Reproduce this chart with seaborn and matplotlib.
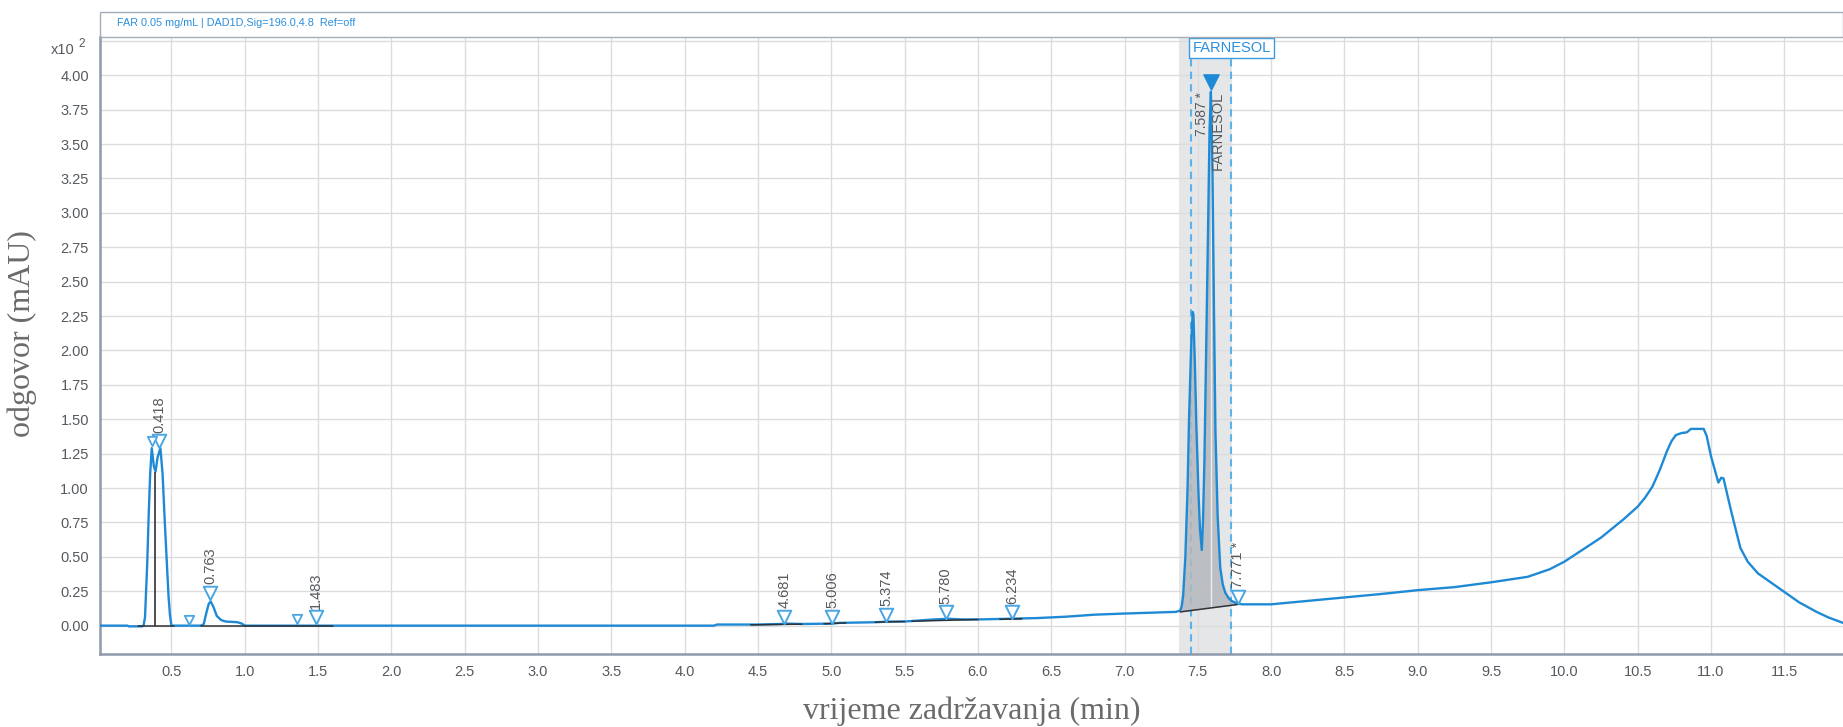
import numpy as np
import matplotlib
matplotlib.use("Agg")
import matplotlib.pyplot as plt
import matplotlib.transforms as mtransforms
from matplotlib.patches import Rectangle
from matplotlib.ticker import MultipleLocator, FormatStrFormatter, FuncFormatter
import seaborn as sns

# DAD trace: retention time (min) and response (mAU, x10^2)
time_min = [
    0.00, 0.20, 0.21, 0.30, 0.31,
    0.32, 0.335, 0.345, 0.355, 0.366, 0.38, 0.392, 0.405, 0.425, 0.44, 0.455, 0.468, 0.48, 0.49, 0.50,
    0.60, 0.70, 0.72, 0.74, 0.755, 0.768, 0.785, 0.81, 0.84, 0.87, 0.95, 0.98, 1.00,
    1.50, 2.00, 3.00, 4.00, 4.20, 4.22,
    4.50, 4.65, 4.70, 4.80, 5.00, 5.05, 5.30, 5.40, 5.50, 5.70, 5.80, 5.90, 6.00, 6.20, 6.40, 6.60,
    6.80, 7.00, 7.20, 7.35, 7.38,
    7.39, 7.40, 7.415, 7.43, 7.44, 7.455, 7.465, 7.47, 7.48, 7.49, 7.505, 7.515, 7.527, 7.535, 7.545,
    7.56, 7.57, 7.58, 7.589, 7.60, 7.61, 7.62, 7.635, 7.653, 7.67, 7.687, 7.71, 7.73, 7.76, 7.80,
    8.00, 8.25, 8.50, 8.75, 9.00, 9.25, 9.50, 9.75, 9.90, 10.00, 10.25, 10.40, 10.50, 10.55, 10.60,
    10.65, 10.70, 10.73, 10.76, 10.80, 10.835, 10.863, 10.95, 10.97, 11.00, 11.05, 11.07, 11.085,
    11.14, 11.20, 11.25, 11.32, 11.40, 11.50, 11.60, 11.72, 11.80, 11.90,
]
response = [
    0.000, 0.000, -0.005, -0.005, 0.000,
    0.060, 0.450, 0.800, 1.100, 1.290, 1.160, 1.120, 1.220, 1.290, 1.100, 0.750, 0.480, 0.220, 0.080, 0.000,
    0.000, 0.000, 0.010, 0.100, 0.160, 0.175, 0.140, 0.070, 0.040, 0.030, 0.025, 0.015, 0.000,
    0.000, 0.000, 0.000, 0.000, 0.000, 0.008,
    0.008, 0.012, 0.015, 0.012, 0.015, 0.020, 0.025, 0.030, 0.030, 0.045, 0.050, 0.045, 0.045, 0.050, 0.055, 0.065,
    0.080, 0.088, 0.095, 0.100, 0.110,
    0.140, 0.220, 0.500, 1.000, 1.500, 2.050, 2.280, 2.260, 1.900, 1.450, 0.950, 0.700, 0.550, 0.750, 1.200,
    2.200, 2.900, 3.600, 3.880, 3.300, 2.300, 1.420, 0.800, 0.420, 0.300, 0.240, 0.200, 0.180, 0.165, 0.155,
    0.155, 0.180, 0.205, 0.230, 0.258, 0.280, 0.315, 0.355, 0.410, 0.465, 0.640, 0.770, 0.865, 0.930, 1.010,
    1.130, 1.270, 1.340, 1.385, 1.400, 1.405, 1.430, 1.430, 1.380, 1.230, 1.040, 1.075, 1.070,
    0.820, 0.565, 0.465, 0.380, 0.320, 0.245, 0.170, 0.100, 0.060, 0.020,
]

# Integration baselines (start/end time, start/end response)
base_t0 = [0.27, 0.70, 1.00, 4.45, 4.95, 5.30, 5.55, 6.15, 7.38]
base_t1 = [0.52, 1.00, 1.60, 4.80, 5.10, 5.50, 6.00, 6.30, 7.78]
base_y0 = [0.000, 0.000, 0.000, 0.006, 0.013, 0.025, 0.032, 0.046, 0.100]
base_y1 = [0.000, 0.000, 0.000, 0.011, 0.020, 0.030, 0.045, 0.050, 0.155]

# Valley drop between the two early peaks
valley_rt, valley_y = 0.39, 1.12

# Labelled peaks (open markers)
peak_rt = [0.418, 0.763, 1.483, 4.681, 5.006, 5.374, 5.780, 6.234, 7.771]
peak_mark_y = [1.34, 0.24, 0.06, 0.065, 0.065, 0.08, 0.10, 0.10, 0.21]
peak_labels = ["0.418", "0.763", "1.483", "4.681", "5.006", "5.374", "5.780", "6.234", "7.771 *"]

# Unlabelled peak starts
minor_rt = [0.366, 0.62, 1.355]
minor_mark_y = [1.34, 0.04, 0.05]

# Identified compound
compound_name = "FARNESOL"
compound_rt = 7.587
compound_label = "7.587 *"
compound_mark_y = 3.95
compound_apex_rt, compound_apex_y = 7.589, 3.88
window_start, window_end = 7.375, 7.735
window_lo, window_hi = 7.453, 7.726

header_text = "FAR 0.05 mg/mL | DAD1D,Sig=196.0,4.8  Ref=off"

# ---------------------------------------------------------------- style
sns.set_theme(style="white")
plt.rcParams["font.family"] = ["Liberation Sans", "DejaVu Sans"]

trace_blue = "#1e8ad6"
marker_blue = "#48a6e2"
axis_grey = "#8e99ac"
tick_grey = "#555a60"

W, H = 1843, 727
fig = plt.figure(figsize=(W / 100, H / 100), dpi=100)
ax = fig.add_axes([100 / W, 73 / H, 1743 / W, 617 / H])

# compound window shading and limits
ax.axvspan(window_start, window_end, color="#e5e6e8", zorder=0.5, lw=0)
for xv in (window_lo, window_hi):
    ax.axvline(xv, color="#5cb2ea", lw=1.5, ls=(0, (3.5, 2.5)), zorder=1.2)

# integrated area of the compound peak
t = np.asarray(time_min)
r = np.asarray(response)
sel = (t >= base_t0[-1]) & (t <= base_t1[-1])
bl = np.interp(t[sel], [base_t0[-1], base_t1[-1]], [base_y0[-1], base_y1[-1]])
ax.fill_between(t[sel], bl, r[sel], color="#b4b8bc", alpha=0.85, lw=0, zorder=1.5)
apex_base = np.interp(compound_apex_rt, [base_t0[-1], base_t1[-1]], [base_y0[-1], base_y1[-1]])
ax.vlines(compound_apex_rt, apex_base, compound_apex_y, color="#eeeeee", lw=1.0, zorder=1.6)

# trace
sns.lineplot(x=time_min, y=response, ax=ax, color=trace_blue, lw=1.7,
             estimator=None, sort=False, zorder=3)

# baselines and drop line
for x0, x1, y0, y1 in zip(base_t0, base_t1, base_y0, base_y1):
    ax.plot([x0, x1], [y0, y1], color="#2e3236", lw=1.1, zorder=3.5)
ax.vlines(valley_rt, 0, valley_y, color="#2e3236", lw=1.2, zorder=3.5)

# peak markers
sns.scatterplot(x=peak_rt, y=peak_mark_y, ax=ax, marker="v", s=95,
                facecolor="white", edgecolor=marker_blue, linewidth=1.4, zorder=4)
sns.scatterplot(x=minor_rt, y=minor_mark_y, ax=ax, marker="v", s=45,
                facecolor="white", edgecolor=marker_blue, linewidth=1.3, zorder=4)
ax.scatter([compound_rt], [compound_mark_y], marker="v", s=120,
           color=trace_blue, zorder=4)

for x, y, lab in zip(peak_rt, peak_mark_y, peak_labels):
    ax.annotate(lab, (x, y), xytext=(0, 6), textcoords="offset points",
                rotation=90, ha="center", va="bottom", fontsize=10.5,
                color=tick_grey, zorder=5)

ax.annotate(compound_label, (compound_rt, compound_mark_y), xytext=(-6.5, -7),
            textcoords="offset points", rotation=90, ha="center", va="top",
            fontsize=10, color=tick_grey, zorder=5)
ax.annotate(compound_name, (compound_rt, compound_mark_y), xytext=(5.5, -7),
            textcoords="offset points", rotation=90, ha="center", va="top",
            fontsize=10.5, color=tick_grey, zorder=5)

blend = mtransforms.blended_transform_factory(ax.transData, ax.transAxes)
ax.text(window_lo + 0.01, 0.993, compound_name, transform=blend, ha="left", va="top",
        fontsize=10.5, color="#2b8fdc", zorder=6,
        bbox=dict(boxstyle="square,pad=0.2", fc="white", ec="#3a9be0", lw=1.0))

# axes, ticks and grid
ax.set_xlim(0.013, 11.90)
ax.set_ylim(-0.206, 4.278)
ax.xaxis.set_major_locator(MultipleLocator(0.5))
ax.xaxis.set_minor_locator(MultipleLocator(0.25))
ax.yaxis.set_major_locator(MultipleLocator(0.25))
ax.yaxis.set_minor_locator(MultipleLocator(0.125))
ax.xaxis.set_major_formatter(FormatStrFormatter("%.1f"))
ax.yaxis.set_major_formatter(FuncFormatter(lambda v, _: "" if v > 4.1 else f"{v:.2f}"))
ax.grid(True, which="major", color="#dcdcdc", lw=1.0)
ax.set_axisbelow(True)

ax.tick_params(axis="x", which="major", length=0, pad=8, labelsize=10.5, labelcolor=tick_grey)
ax.tick_params(axis="x", which="minor", length=4, width=1, color=axis_grey, direction="out")
ax.tick_params(axis="y", which="major", length=5, width=1, color=axis_grey, pad=3,
               labelsize=10.5, labelcolor=tick_grey, direction="out")
ax.tick_params(axis="y", which="minor", length=3, width=0.8, color=axis_grey, direction="out")

for side in ("top", "right"):
    ax.spines[side].set_visible(False)
for side in ("left", "bottom"):
    ax.spines[side].set_color(axis_grey)
    ax.spines[side].set_linewidth(1.8)

serif = ["Liberation Serif", "DejaVu Serif"]
ax.set_xlabel("vrijeme zadržavanja (min)", family=serif, fontsize=23, color="#6b6b6b")
ax.xaxis.set_label_coords(0.5, -0.092)
ax.xaxis.label.set_va("center")
ax.set_ylabel("odgovor (mAU)", family=serif, fontsize=23, color="#6b6b6b")
ax.yaxis.set_label_coords(-0.0445, 0.52)
ax.yaxis.label.set_va("center")

# header strip with the signal description
fig.add_artist(Rectangle((100 / W, 1 - 37 / H), 1743 / W, 25 / H, transform=fig.transFigure,
                         fill=False, ec="#a4acb8", lw=1.0))
fig.text(117 / W, 1 - 23.5 / H, header_text, color="#2b8fdc", fontsize=7.8, va="center", ha="left")

# exponent of the response axis
fig.text(75 / W, 1 - 50 / H, "x10", color=tick_grey, fontsize=10.5, ha="right", va="center")
fig.text(78 / W, 1 - 44 / H, "2", color=tick_grey, fontsize=8.5, ha="left", va="center")

fig.savefig("out.png", dpi=100)
